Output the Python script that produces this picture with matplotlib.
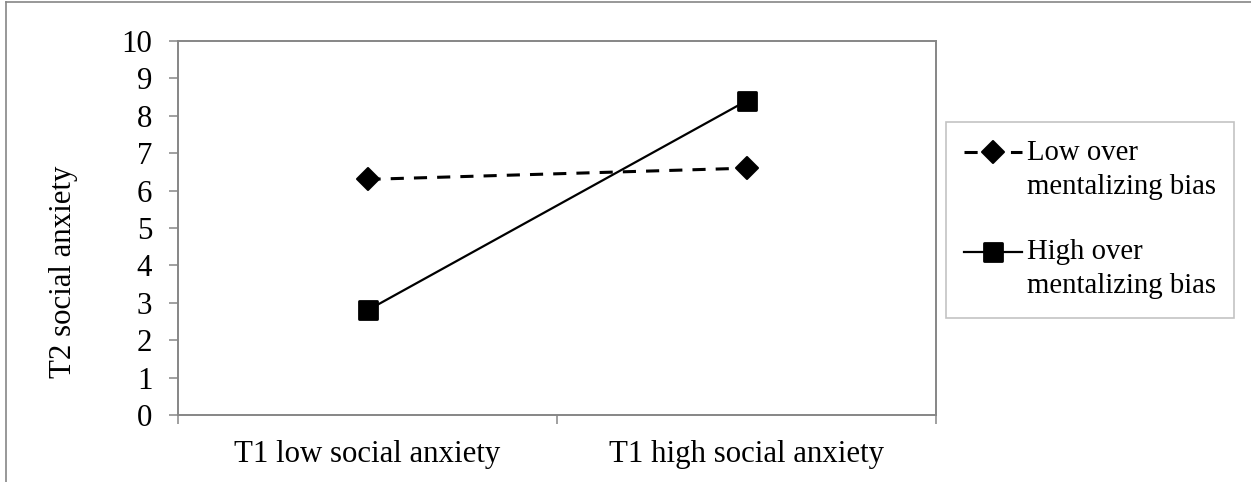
import matplotlib
matplotlib.use("Agg")
import numpy as np
import matplotlib.pyplot as plt
from matplotlib.lines import Line2D
from matplotlib.markers import MarkerStyle
from matplotlib.legend_handler import HandlerLine2D

# ---- data ----
CATEGORIES = ["T1 low social anxiety", "T1 high social anxiety"]
LOW_BIAS = [6.3, 6.6]    # low over-mentalizing bias
HIGH_BIAS = [2.8, 8.4]   # high over-mentalizing bias
SERIES_LABELS = ["Low over\nmentalizing bias", "High over\nmentalizing bias"]
Y_TICKS = list(range(0, 11))
Y_LABEL = "T2 social anxiety"

W, H = 1251, 482
GRAY = "#868686"
FS = 22.2
LEG_FS = 20.7

plt.rcParams["font.family"] = ["Liberation Serif", "DejaVu Serif"]


class FirstLineHandler(HandlerLine2D):
    """Put the legend handle level with the first line of a 2-line label."""
    def create_artists(self, legend, orig_handle, xdescent, ydescent,
                       width, height, fontsize, trans):
        arts = super().create_artists(legend, orig_handle, xdescent, ydescent,
                                      width, height, fontsize, trans)
        for a in arts:
            a.set_ydata(np.asarray(a.get_ydata()) + 0.62 * fontsize)
        return arts


fig = plt.figure(figsize=(W / 100, H / 100), dpi=100)
ax = fig.add_axes([178 / W, 1 - 415 / H, (936 - 178) / W, (415 - 41) / H])

xs = [0.5, 1.5]
ax.plot(xs, LOW_BIAS, color="black", lw=2.2, ls=(0, (4.3, 3.3)),
        marker=MarkerStyle("D", joinstyle="round"), ms=11, mew=1.5,
        mfc="black", mec="black", label=SERIES_LABELS[0], zorder=3)
ax.plot(xs, HIGH_BIAS, color="black", lw=1.6, ls="-",
        marker=MarkerStyle("s", joinstyle="round"), ms=13.5, mew=2,
        mfc="black", mec="black", label=SERIES_LABELS[1], zorder=3)

ax.set_xlim(0, 2)
ax.set_ylim(0, 10)
ax.set_yticks(Y_TICKS)
ax.tick_params(axis="y", direction="out", length=6.5, width=1.1, color=GRAY,
               labelsize=FS, pad=12)
ax.set_xticks([0, 1, 2])
ax.set_xticklabels([])
ax.set_xticks(xs, minor=True)
ax.set_xticklabels(CATEGORIES, minor=True)
ax.tick_params(axis="x", which="major", direction="out", length=6.5,
               width=1.1, color=GRAY)
ax.tick_params(axis="x", which="minor", length=0, labelsize=FS, pad=18)
for sp in ax.spines.values():
    sp.set_color(GRAY)
    sp.set_linewidth(1.4)

fig.text(63 / W, 1 - 272 / H, Y_LABEL, rotation=90, ha="center",
         va="center", fontsize=FS)

leg = ax.legend(loc="upper left", bbox_to_anchor=(946 / W, 1 - 121.7 / H),
                bbox_transform=fig.transFigure, borderaxespad=0,
                fontsize=LEG_FS, frameon=True, fancybox=False,
                handlelength=2.0, handletextpad=0.2, borderpad=0.63,
                labelspacing=1.38,
                handler_map={Line2D: FirstLineHandler()})
for t in leg.get_texts():
    t.set_linespacing(1.4)
leg.get_frame().set_edgecolor("#b4b4b4")
leg.get_frame().set_linewidth(1.2)

# outer border of the figure (top and left only are visible)
fig.add_artist(Line2D([6 / W, 6 / W], [0, 1 - 2 / H], color=GRAY, lw=1.2,
                      transform=fig.transFigure))
fig.add_artist(Line2D([6 / W, 1], [1 - 2 / H, 1 - 2 / H], color=GRAY, lw=1.2,
                      transform=fig.transFigure))

fig.savefig("out.png", dpi=100)
